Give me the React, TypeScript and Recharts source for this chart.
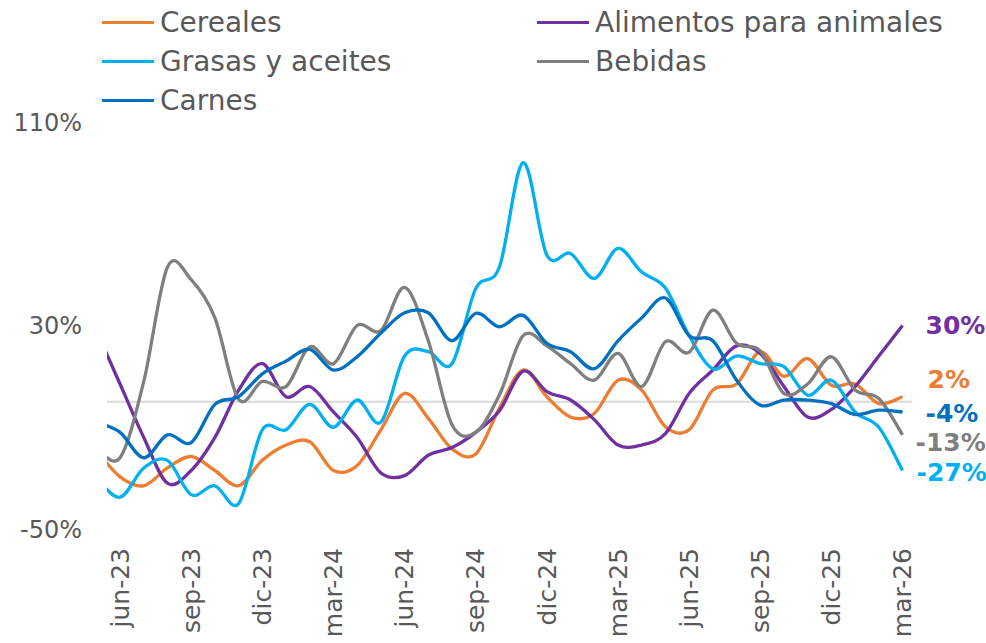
import React from "react";
import { LineChart, Line, XAxis, YAxis, ReferenceLine, LabelList } from "recharts";

// monthly, may-23 .. mar-26 (may-23 sits just left of the plot and gets clipped)
const months = [
  "may-23", "jun-23", "jul-23", "ago-23", "sep-23", "oct-23", "nov-23", "dic-23",
  "ene-24", "feb-24", "mar-24", "abr-24", "may-24", "jun-24", "jul-24", "ago-24",
  "sep-24", "oct-24", "nov-24", "dic-24", "ene-25", "feb-25", "mar-25", "abr-25",
  "may-25", "jun-25", "jul-25", "ago-25", "sep-25", "oct-25", "nov-25", "dic-25",
  "ene-26", "feb-26", "mar-26",
];

const cereales = [
  -19, -29.5, -33, -26, -21.5, -27, -33, -23, -17, -15.7, -27, -25, -11, 3.3, -6.5, -18.5,
  -20.5, -2.5, 12.5, 2, -6, -4.6, 8.5, 4.6, -9.8, -11, 4.6, 7, 19.7, 10, 17, 6.5,
  7, -0.7, 2,
];
const alimentos = [
  28, 7, -14, -32, -27, -14, 4.6, 15, 2, 6, -4, -14, -28, -29, -21, -18,
  -12, -3.5, 12, 4, 0.7, -7, -17, -17, -12.5, 3.3, 12.5, 22, 19, 6, -6, -3,
  6, 18, 30,
];
const grasas = [
  -30, -37.5, -26, -23, -36.5, -33, -40, -11, -11, -1, -10, 0.7, -8, 18, 19.7, 15,
  44.5, 53, 94, 57.7, 58.3, 48.5, 60.3, 51, 44.7, 26, 13, 18, 15, 13.8, 2.6, 8.5,
  -4, -10, -27,
];
const bebidas = [
  -18, -22, 8, 53, 48, 33, 1, 8, 6, 21.6, 15, 30, 28, 45, 24, -9,
  -12, 2.7, 26, 22, 15, 8.5, 19, 6, 23.6, 19.5, 36, 23, 20, 3.3, 7, 17.7,
  4.6, 1.3, -13,
];
const carnes = [
  -8, -12, -22, -13, -16, -1, 2, 11, 16, 20.6, 12.5, 17.7, 27, 35, 35, 24,
  34.8, 29.5, 34, 23, 19.7, 13, 24, 33, 40.8, 26, 24, 8.5, -1.3, 0.7, 0.7, -0.7,
  -5, -3.3, -4,
];

const yTicks = [-50, 30, 110];
const xTicks = [1, 4, 7, 10, 13, 16, 19, 22, 25, 28, 31, 34];

const data = months.map((m, i) => ({
  idx: i,
  month: m,
  cereales: cereales[i],
  alimentos: alimentos[i],
  grasas: grasas[i],
  bebidas: bebidas[i],
  carnes: carnes[i],
}));

const series = [
  { key: "cereales", name: "Cereales", color: "#ED7D31", dx: 25, dy: -17 },
  { key: "alimentos", name: "Alimentos para animales", color: "#7030A0", dx: 23, dy: 0 },
  { key: "grasas", name: "Grasas y aceites", color: "#00B0F0", dx: 14, dy: 2 },
  { key: "bebidas", name: "Bebidas", color: "#7F7F7F", dx: 13, dy: 7 },
  { key: "carnes", name: "Carnes", color: "#0070C0", dx: 23, dy: 1 },
];

const FONT = "'DejaVu Sans', sans-serif";
const TEXT = "#595959";

// Excel-like smoothed line (Catmull-Rom through the points)
function excelSmooth(context: any) {
  let pts: number[][] = [];
  return {
    areaStart() {},
    areaEnd() {},
    lineStart() {
      pts = [];
    },
    point(x: number, y: number) {
      pts.push([+x, +y]);
    },
    lineEnd() {
      if (!pts.length) return;
      context.moveTo(pts[0][0], pts[0][1]);
      for (let i = 0; i < pts.length - 1; i++) {
        const p0 = pts[i - 1] || pts[i];
        const p1 = pts[i];
        const p2 = pts[i + 1];
        const p3 = pts[i + 2] || p2;
        context.bezierCurveTo(
          p1[0] + (p2[0] - p0[0]) / 6,
          p1[1] + (p2[1] - p0[1]) / 6,
          p2[0] - (p3[0] - p1[0]) / 6,
          p2[1] - (p3[1] - p1[1]) / 6,
          p2[0],
          p2[1]
        );
      }
    },
  };
}

function MonthTick(props: any) {
  const { x, y, payload } = props;
  const label = months[payload.value];
  return (
    <text
      x={x}
      y={y}
      transform={`rotate(-90, ${x}, ${y})`}
      textAnchor="end"
      dy="0.35em"
      fill={TEXT}
      fontSize={25}
      fontFamily={FONT}
    >
      {label}
    </text>
  );
}

function endLabel(color: string, dx: number, dy: number) {
  return (props: any) => {
    const { x, y, value, index } = props;
    if (index !== months.length - 1) return null;
    return (
      <text
        x={x + dx}
        y={y + dy}
        dy="0.35em"
        fill={color}
        fontSize={25}
        fontWeight={700}
        fontFamily={FONT}
      >
        {`${value}%`}
      </text>
    );
  };
}

function Legend() {
  const cols = [102, 537];
  return (
    <>
      {series.map((s, i) => {
        const left = cols[i % 2];
        const top = 22.7 + Math.floor(i / 2) * 39;
        return (
          <div
            key={s.key}
            style={{
              position: "absolute",
              left,
              top: top - 18,
              height: 36,
              display: "flex",
              alignItems: "center",
              fontFamily: FONT,
              fontSize: 28,
              color: TEXT,
              whiteSpace: "nowrap",
            }}
          >
            <span style={{ display: "inline-block", width: 52, height: 3, background: s.color, marginRight: 6 }} />
            <span>{s.name}</span>
          </div>
        );
      })}
    </>
  );
}

export default function App() {
  return (
    <div style={{ position: "absolute", left: 0, top: 0, width: 986, height: 643, background: "#fff" }}>
      <LineChart width={986} height={643} data={data} margin={{ top: 122, right: 74, bottom: 0, left: 0 }}>
        <XAxis
          dataKey="idx"
          type="number"
          domain={[0.45, 34.4]}
          allowDataOverflow
          ticks={xTicks}
          interval={0}
          height={114}
          axisLine={false}
          tickLine={false}
          tickMargin={13}
          tick={<MonthTick />}
        />
        <YAxis
          domain={[-50, 110]}
          ticks={yTicks}
          width={107}
          axisLine={false}
          tickLine={false}
          tickMargin={19}
          tickFormatter={(v) => `${v}%`}
          tick={{ fill: TEXT, fontSize: 24, fontFamily: FONT }}
        />
        <ReferenceLine y={0} stroke="#D9D9D9" strokeWidth={2} />
        {series.map((s) => (
          <Line
            key={s.key}
            dataKey={s.key}
            name={s.name}
            type={excelSmooth as any}
            stroke={s.color}
            strokeWidth={3.3}
            dot={false}
            isAnimationActive={false}
          >
            <LabelList dataKey={s.key} content={endLabel(s.color, s.dx, s.dy)} />
          </Line>
        ))}
      </LineChart>
      <Legend />
    </div>
  );
}
